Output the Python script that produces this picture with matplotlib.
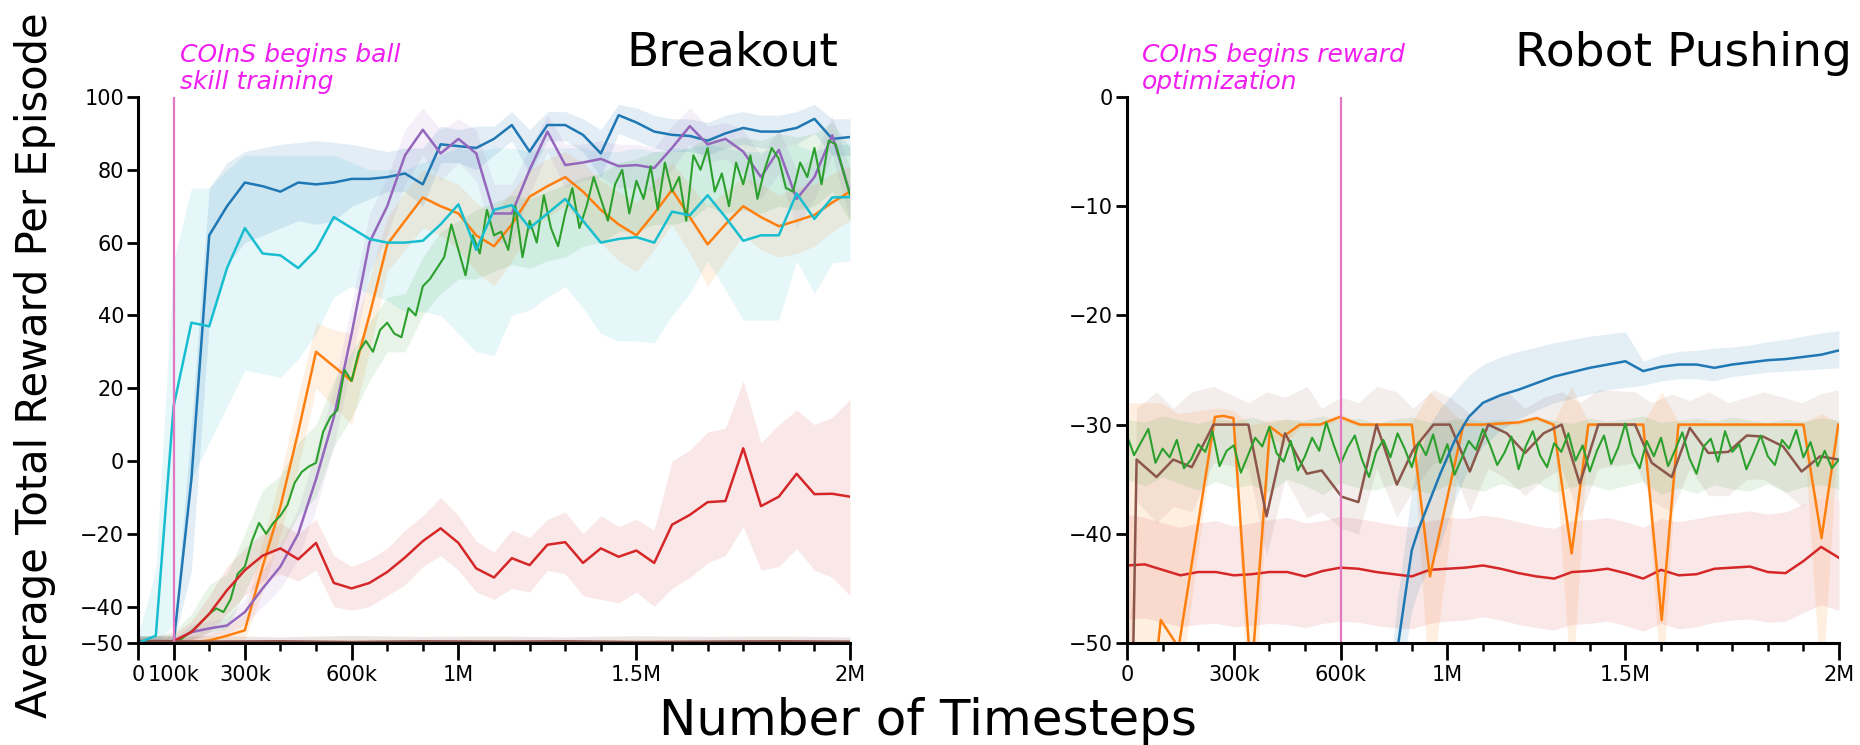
import numpy as np
import matplotlib
matplotlib.use("Agg")
import matplotlib.pyplot as plt
from matplotlib.ticker import MultipleLocator

# --- Data (timesteps in thousands) ---
T50 = list(range(0, 2001, 50))          # common 50k grid for the sparse runs
T20 = list(range(0, 2001, 20))          # denser grid for the noisy green runs

# Breakout
bo_blue = [-50, -50, -50, -5, 62, 70, 76.5, 75.5, 74, 76.5, 76, 76.5, 77.5, 77.5, 78, 79, 76, 87, 86.5, 86,
           88.5, 92.3, 85, 92.3, 92.3, 89.6, 84.5, 95, 93, 90.5, 89.6, 89.3, 88, 90, 91.5, 90.5, 90.5, 91.5, 94, 88.5, 89]
bo_blue_hi = [-48, -48, -48, 10, 75, 82, 85, 86, 87, 87.5, 88, 87.5, 87, 86, 85, 86, 86, 92, 91, 92,
              92, 96, 91, 96, 96, 94, 91, 98, 97, 95, 94, 94, 93, 95, 96, 95, 95, 96, 98, 94, 94]
bo_blue_lo = [-50, -50, -50, -30, 38, 54, 60, 62, 64, 66, 65, 66, 70, 72, 74, 74, 70, 82, 82, 80,
              84, 88, 79, 88, 88, 85, 78, 90, 88, 86, 85, 85, 84, 86, 87, 86, 86, 87, 90, 84, 84]

bo_cyan = [-50, -48, 15, 38, 37, 53, 64, 57, 56.5, 53, 58, 67, 64, 61, 60, 60, 60.5, 65, 70.5, 58,
           69, 70.3, 64, 68, 72, 66, 60, 61, 61.5, 60, 68.5, 67.5, 73, 67, 60.5, 62, 62, 73.5, 66.5, 72.4, 72.5]
bo_cyan_hi = [-48, -30, 55, 75, 75, 80, 84, 84, 84, 84, 84, 84, 82, 80, 80, 80, 82, 84, 86, 85,
              86, 86, 85, 86, 86, 86, 85, 85, 86, 85, 86, 86, 87, 86, 85, 85, 86, 87, 85, 87, 87]
bo_cyan_lo = [-50, -50, -45, -5, 5, 15, 25, 24, 23, 28, 35, 45, 48, 46, 44, 41, 41, 40, 35, 30,
              29, 40, 41.5, 45, 48, 42, 35, 33, 33, 32.4, 40, 46, 55, 47, 38.7, 38.7, 38.7, 55, 46, 54.4, 55]

bo_purple = [-50, -50, -49.5, -47, -46, -45.2, -41.5, -35, -29, -20, -5, 12, 35, 60, 70, 84, 91, 84.5, 88.5, 84.5,
             68, 68, 80, 90.5, 81.3, 82, 83, 81, 81.3, 80.5, 86, 92, 87, 88.5, 85, 78, 85.5, 72, 78, 89.5, 73.5]
bo_purple_hi = [-49, -49, -48.5, -45, -44, -43, -38, -30, -23, -13, 3, 20, 43, 68, 78, 91, 97, 91, 94, 91,
                76, 76, 86, 95, 87, 87, 88, 87, 87, 86, 92, 97, 92, 93, 91, 84, 91, 80, 84, 95, 80]
bo_purple_lo = [-50, -50, -50, -49, -48, -47.5, -45, -40, -35, -27, -13, 4, 27, 52, 62, 76, 84, 77, 82, 77,
                60, 60, 73, 85, 75, 77, 78, 75, 75, 74, 80, 87, 82, 83, 79, 72, 79, 64, 72, 84, 66]

bo_orange = [-50, -50, -50, -49.8, -49.3, -48, -46.5, -29, -12.5, 8, 30, 26, 22, 40, 59.5, 66, 72.4, 70, 68, 62,
             59, 65, 72.6, 75.5, 78, 74, 69, 65, 62, 68, 74.5, 67, 59.5, 65, 70, 67, 64.5, 66, 67.6, 71, 74]
bo_orange_hi = [-49, -49, -49, -48.5, -47.5, -45.5, -42, -22, -4, 18, 38, 36, 35, 50, 67, 74, 80, 78, 76, 71,
                68, 74, 80, 83, 85, 82, 77, 74, 71, 77, 82, 76, 70, 74, 78, 76, 73, 75, 76, 79, 81]
bo_orange_lo = [-50, -50, -50, -50, -50, -50, -49, -36, -20, -2, 20, 15, 10, 30, 52, 58, 64, 62, 58, 52,
                48, 55, 63, 67, 70, 65, 60, 55, 52, 58, 65, 57, 48, 55, 62, 58, 56, 57, 59, 63, 66]

bo_red = [-50, -50, -49.5, -47, -42, -35.5, -30, -26, -24, -27, -22.5, -33.5, -35, -33.5, -30.5, -26.5, -22, -18.5, -22.5, -29.5,
          -32, -26.7, -28.6, -23, -22.3, -28, -24, -26.3, -24.6, -28, -17.5, -14.8, -11.3, -11, 3.5, -12.4, -9.8, -3.5, -9.1, -9, -9.8]
bo_red_hi = [-48, -48, -47.5, -44, -37, -29, -24, -20, -17, -20, -16, -26, -29, -27, -24, -19, -15, -10, -15, -22,
             -25, -19, -21, -16, -14, -20, -15, -18, -16, -19, 0, 3, 8, 9, 22, 5, 10, 14, 10, 12, 17]
bo_red_lo = [-50, -50, -50, -49.5, -47, -42, -37, -33, -31, -33, -30, -40, -41, -40, -37, -34, -29, -26, -30, -36,
             -38, -35, -36, -30, -31, -37, -38, -39, -36, -40, -35, -32, -28, -26, -18, -30, -29, -24, -30, -32, -37]

bo_green = [-50, -50, -50.5, -50, -50, -49.5, -49, -47.5, -46, -44, -42, -40.5, -41.5, -38, -31, -29, -22, -17, -20, -17,
            -15, -12, -6, -3, -1.5, -0.5, 8, 12, 14, 25, 22, 30, 33, 30, 36, 38, 35, 34, 42, 40,
            48, 50, 53, 56, 65, 58, 51, 62, 57, 69, 62, 63, 58, 70, 56, 66, 60, 73, 64, 59,
            68, 75, 64, 70, 78, 72, 66, 76, 80, 68, 77, 72, 81, 69, 82, 74, 78, 66, 84, 80,
            86, 74, 79, 70, 82, 76, 84, 72, 80, 86, 83, 75, 74, 82, 78, 86, 76, 88, 87, 80, 73]
bo_green_hi = [-48, -48, -47, -42, -34, -31, -20, -8, -4, 5, 10, 22, 30, 38, 45, 46, 56, 63, 66, 69,
               71, 73, 72, 74, 76, 78, 79, 82, 83, 85, 85, 86, 89, 88, 89, 88, 90, 89, 90, 93, 86]
bo_green_lo = [-50, -50, -50, -49, -47, -46, -36, -26, -24, -15, -10, 4, 12, 22, 30, 30, 40, 46, 50, 50,
               52, 54, 53, 55, 56, 59, 60, 63, 63, 65, 65, 66, 70, 68, 69, 68, 70, 69, 70, 74, 66]

bo_brown_t = [0, 200, 400, 600, 800, 1000, 1200, 1400, 1600, 1800, 2000]
bo_brown = [-49.5, -49.7, -49.6, -49.8, -49.6, -49.7, -49.6, -49.8, -49.7, -49.6, -49.7]
bo_brown_hi = [-48.2, -48.0, -48.3, -47.9, -48.2, -48.1, -48.3, -48.0, -48.2, -48.1, -48.3]

# Robot Pushing
rp_blue_t = [740, 760, 780, 800, 820, 850, 880, 920, 960, 1000, 1050, 1100, 1150, 1200, 1250,
             1300, 1350, 1400, 1450, 1500, 1550, 1600, 1650, 1700, 1750, 1800, 1850, 1900, 1950, 2000]
rp_blue = [-56, -50.5, -46, -41.5, -39.5, -37, -34.5, -31.5, -29.3, -28, -27.3, -26.8, -26.2, -25.6, -25.2,
           -24.8, -24.5, -24.2, -25.1, -24.7, -24.5, -24.5, -24.8, -24.5, -24.3, -24.1, -24, -23.8, -23.6, -23.2]
rp_blue_hi = [-52, -46, -41, -36, -33, -30, -28.5, -27, -25.5, -24.5, -23.8, -23.3, -22.9, -22.5, -22.2,
              -21.9, -21.7, -21.5, -24.2, -23.6, -23.3, -23.2, -23.0, -22.9, -22.7, -22.4, -22.2, -21.9, -21.6, -21.4]
rp_blue_lo = [-60, -55, -51, -47, -45, -43, -41, -37, -34, -32, -30.5, -29.5, -28.7, -28.0, -27.6,
              -27.2, -26.8, -26.6, -26.4, -26.0, -25.8, -25.8, -26.0, -25.6, -25.4, -25.2, -25.1, -25.0, -24.9, -24.8]

rp_orange_t = [0, 60, 95, 145, 247, 270, 299, 346, 352, 402, 439, 486, 542, 598, 654, 700, 750, 800, 851,
               945, 1000, 1100, 1151, 1198, 1249, 1296, 1350, 1400, 1450, 1502, 1549, 1600, 1700, 1800, 1900, 1951, 1998]
rp_orange = [-62, -58, -47.9, -50.4, -29.3, -29.2, -29.4, -52, -52, -30.2, -31.1, -30.0, -30.0, -29.3, -30.0, -30, -30, -30, -43.9,
             -30, -30, -29.8, -29.4, -30, -41.8, -30, -30, -30, -30, -47.9, -30, -30, -30, -30, -30, -40.4, -30]
rp_orange_hi = [-28, -28, -28, -29, -28.5, -28.5, -28.7, -30, -30, -29.6, -29.5, -29.7, -29.8, -29.0, -29.8, -29.8, -29.8, -29.8, -27,
                -29.8, -29.8, -29.6, -29.2, -29.8, -26.5, -29.8, -29.8, -29.8, -29.8, -27, -29.8, -29.8, -29.8, -29.8, -29.8, -29, -29.8]
rp_orange_lo = [-60, -60, -55, -55, -30, -30, -30.2, -60, -60, -31, -32, -30.3, -30.2, -29.6, -30.2, -30.2, -30.2, -30.2, -55,
                -30.2, -30.2, -30.0, -29.6, -30.2, -55, -30.2, -30.2, -30.2, -30.2, -55, -30.2, -30.2, -30.2, -30.2, -30.2, -55, -30.2]

rp_brown_t = [0, 18, 27, 83, 130, 182, 243, 341, 392, 444, 505, 547, 603, 650, 701, 758, 804, 861, 907, 963,
              1015, 1067, 1118, 1170, 1221, 1272, 1324, 1427, 1474, 1530, 1581, 1633, 1689, 1741, 1787, 1843, 1895, 1947, 1998]
rp_brown = [-55, -50, -33.2, -34.8, -33.2, -33.9, -30.0, -30.0, -38.4, -30.8, -34.5, -34.2, -36.6, -37.1, -30.0, -35.5, -32.3, -30, -30, -34.3,
            -30, -30.8, -32.6, -30.8, -30, -35.4, -30, -30, -33.5, -34.8, -30.3, -32.6, -32.5, -31.0, -31.1, -32.0, -34.3, -32.9, -33.2]
rp_brown_hi = [-50, -45, -28.5, -27, -28.5, -27, -26.5, -28, -27, -27.5, -26.5, -28.5, -27.5, -28, -26.5, -27, -28.5, -26.8, -27.5, -29,
               -27.5, -27, -28.5, -27.5, -27, -28, -26.8, -27, -28, -27.2, -27.8, -27, -28, -27.5, -27, -27.5, -28, -27.2, -26.8]
rp_brown_lo = [-60, -55, -37, -39, -37.5, -38, -33.5, -34, -42, -35, -38.5, -38, -39.5, -40, -34, -38.5, -36, -33.5, -33.5, -38,
               -34, -35, -36.5, -35, -34, -38.5, -34, -33.5, -37, -38, -34, -36.5, -36.5, -35, -35, -36, -37.5, -36.5, -37]

rp_red = [-42.9, -42.8, -43.3, -43.8, -43.5, -43.5, -43.8, -43.7, -43.5, -43.5, -43.9, -43.4, -43.1, -43.2, -43.5, -43.7, -43.9, -43.3, -43.2, -43.1,
          -42.9, -43.2, -43.6, -43.9, -44.1, -43.5, -43.4, -43.2, -43.6, -44.1, -43.3, -43.8, -43.7, -43.2, -43.1, -43.0, -43.5, -43.6, -42.5, -41.2, -42.2]
rp_red_hi = [-38.2, -38.5, -39.0, -39.4, -39.0, -38.8, -39.3, -39.0, -38.7, -38.5, -39.0, -38.8, -38.4, -38.6, -38.9, -39.2, -39.4, -38.8, -38.5, -38.6,
             -38.3, -38.5, -38.9, -39.3, -39.5, -38.8, -38.7, -38.5, -38.9, -39.4, -38.6, -38.9, -38.6, -38.3, -38.1, -37.9, -38.2, -38.0, -37.3, -36.6, -37.0]
rp_red_lo = [-47.8, -47.7, -48.1, -48.5, -48.3, -48.2, -48.5, -48.4, -48.2, -48.3, -48.6, -48.2, -48.0, -48.1, -48.4, -48.6, -48.7, -48.2, -48.0, -47.9,
             -47.6, -47.9, -48.3, -48.6, -48.8, -48.3, -48.2, -48.0, -48.4, -48.9, -48.2, -48.7, -48.5, -48.1, -47.9, -47.8, -48.1, -48.0, -47.2, -46.5, -47.0]

rp_green = [-31.0, -32.8, -31.6, -30.4, -33.5, -32.2, -33.0, -31.4, -34.0, -33.2, -31.8, -32.5, -30.6, -33.8, -32.4, -31.9, -34.4, -32.8, -31.2, -32.0,
            -30.2, -32.6, -33.4, -31.5, -34.2, -32.9, -31.2, -32.4, -29.8, -31.8, -33.6, -32.1, -31.0, -33.2, -34.8, -32.5, -31.4, -33.0, -30.8, -32.2,
            -33.9, -31.6, -32.8, -30.9, -33.5, -31.8, -34.6, -33.1, -31.5, -32.3, -30.4, -31.9, -33.7, -32.6, -31.1, -34.1, -32.0, -30.6, -32.8, -33.9,
            -31.7, -32.5, -30.8, -33.3, -31.9, -34.3, -32.4, -31.0, -33.6, -32.1, -29.9, -32.7, -34.0, -31.5, -32.9, -31.2, -33.8, -32.3, -30.7, -33.1,
            -34.5, -32.0, -31.3, -33.4, -30.6, -32.5, -31.8, -34.1, -32.6, -31.0, -32.9, -33.7, -31.4, -32.2, -30.5, -33.0, -31.6, -33.8, -32.4, -34.0, -33.2]
rp_green_hi = [-29.5, -29.8, -29.2, -29.6, -29.9, -29.4, -29.7, -29.3, -29.8, -29.5, -29.6, -29.2, -29.7, -29.4, -29.9, -29.5, -29.3, -29.8, -29.6, -29.4,
               -29.7, -29.5, -29.8, -29.3, -29.6, -29.9, -29.4, -29.7, -29.5, -29.2, -29.8, -29.6, -29.4, -29.7, -29.3, -29.6, -29.8, -29.5, -29.7, -29.4, -29.6]
rp_green_lo = [-35.0, -35.6, -34.8, -35.4, -36.0, -35.2, -35.8, -35.5, -36.2, -35.0, -35.6, -36.4, -35.3, -35.8, -36.0, -35.4, -35.9, -36.3, -35.5, -35.8,
               -36.1, -35.4, -35.9, -35.3, -36.2, -35.7, -35.5, -36.0, -35.6, -35.2, -36.4, -35.8, -36.3, -35.5, -35.9, -36.1, -35.4, -36.2, -35.7, -35.5, -35.9]

# x tick labels (positions in thousands of timesteps as drawn on the axis)
bo_ticks = [0, 100, 300, 600, 900, 1400, 2000]
bo_labels = ["0", "100k", "300k", "600k", "1M", "1.5M", "2M"]
rp_ticks = [0, 300, 600, 900, 1400, 2000]
rp_labels = ["0", "300k", "600k", "1M", "1.5M", "2M"]

BLUE, ORANGE, GREEN, RED = "#1f77b4", "#ff7f0e", "#2ca02c", "#d62728"
PURPLE, BROWN, PINK, CYAN = "#9467bd", "#8c564b", "#e377c2", "#17becf"
MAGENTA = "#f01ef0"


def band(ax, t, lo, hi, color, alpha=0.13):
    ax.fill_between(t, lo, hi, color=color, alpha=alpha, linewidth=0)


def style_axis(ax, ticks, labels, yticks):
    for s in ("top", "right"):
        ax.spines[s].set_visible(False)
    for s in ("left", "bottom"):
        ax.spines[s].set_linewidth(2.2)
    ax.set_xlim(0, 2000)
    ax.set_xticks(ticks)
    ax.set_xticklabels(labels)
    ax.xaxis.set_minor_locator(MultipleLocator(100))
    ax.set_yticks(yticks)
    ax.tick_params(axis="x", which="major", length=12, width=2, labelsize=15, pad=4)
    ax.tick_params(axis="x", which="minor", length=6, width=1.8)
    ax.tick_params(axis="y", which="major", length=8, width=2, labelsize=15, pad=2)


fig = plt.figure(figsize=(18.6, 7.45), dpi=100)
ax1 = fig.add_axes([0.0742, 0.1369, 0.3828, 0.7329])
ax2 = fig.add_axes([0.6059, 0.1369, 0.3828, 0.7329])

# --- Breakout ---
band(ax1, T50, bo_cyan_lo, bo_cyan_hi, CYAN, 0.11)
band(ax1, T50, bo_blue_lo, bo_blue_hi, BLUE, 0.13)
band(ax1, T50, bo_orange_lo, bo_orange_hi, ORANGE, 0.11)
band(ax1, T50, bo_purple_lo, bo_purple_hi, PURPLE, 0.10)
band(ax1, T50, bo_green_lo, bo_green_hi, GREEN, 0.11)
band(ax1, T50, bo_red_lo, bo_red_hi, RED, 0.10)
band(ax1, bo_brown_t, [-50] * len(bo_brown_t), bo_brown_hi, BROWN, 0.15)

ax1.plot(T50, bo_blue, color=BLUE, lw=1.8)
ax1.plot(T50, bo_orange, color=ORANGE, lw=1.8)
ax1.plot(T50, bo_purple, color=PURPLE, lw=1.8)
ax1.plot(T20, bo_green, color=GREEN, lw=1.5)
ax1.plot(T50, bo_red, color=RED, lw=1.8)
ax1.plot(bo_brown_t, bo_brown, color=BROWN, lw=2.2)
ax1.plot(T50, bo_cyan, color=CYAN, lw=1.8)
ax1.axvline(100, color=PINK, lw=1.6)
ax1.set_ylim(-50, 100)
style_axis(ax1, bo_ticks, bo_labels, [-50, -40, -20, 0, 20, 40, 60, 80, 100])

# --- Robot Pushing ---
band(ax2, T50, rp_red_lo, rp_red_hi, RED, 0.11)
band(ax2, rp_brown_t, rp_brown_lo, rp_brown_hi, BROWN, 0.10)
band(ax2, rp_orange_t, rp_orange_lo, rp_orange_hi, ORANGE, 0.12)
band(ax2, T50, rp_green_lo, rp_green_hi, GREEN, 0.11)
band(ax2, rp_blue_t, rp_blue_lo, rp_blue_hi, BLUE, 0.12)

ax2.plot(T50, rp_red, color=RED, lw=1.8)
ax2.plot(rp_orange_t, rp_orange, color=ORANGE, lw=1.8)
ax2.plot(rp_brown_t, rp_brown, color=BROWN, lw=1.8)
ax2.plot(T20, rp_green, color=GREEN, lw=1.5)
ax2.plot(rp_blue_t, rp_blue, color=BLUE, lw=1.8)
ax2.axvline(600, color=PINK, lw=1.6)
ax2.set_ylim(-50, 0)
style_axis(ax2, rp_ticks, rp_labels, [-50, -40, -30, -20, -10, 0])

# --- Text ---
fig.text(838 / 1860, 1 - 66 / 745, "Breakout", ha="right", va="baseline", fontsize=34)
fig.text(1852 / 1860, 1 - 66 / 745, "Robot Pushing", ha="right", va="baseline", fontsize=34)
fig.text(180 / 1860, 1 - 43 / 745, "COInS begins ball\nskill training", ha="left", va="top",
         fontsize=18, style="italic", color=MAGENTA, linespacing=1.15)
fig.text(1142 / 1860, 1 - 43 / 745, "COInS begins reward\noptimization", ha="left", va="top",
         fontsize=18, style="italic", color=MAGENTA, linespacing=1.15)
fig.text(0.019, 0.51, "Average Total Reward Per Episode", rotation=90, ha="center", va="center", fontsize=30)
fig.text(0.499, 0.0, "Number of Timesteps", ha="center", va="bottom", fontsize=36)

fig.savefig("out.png", dpi=100)
